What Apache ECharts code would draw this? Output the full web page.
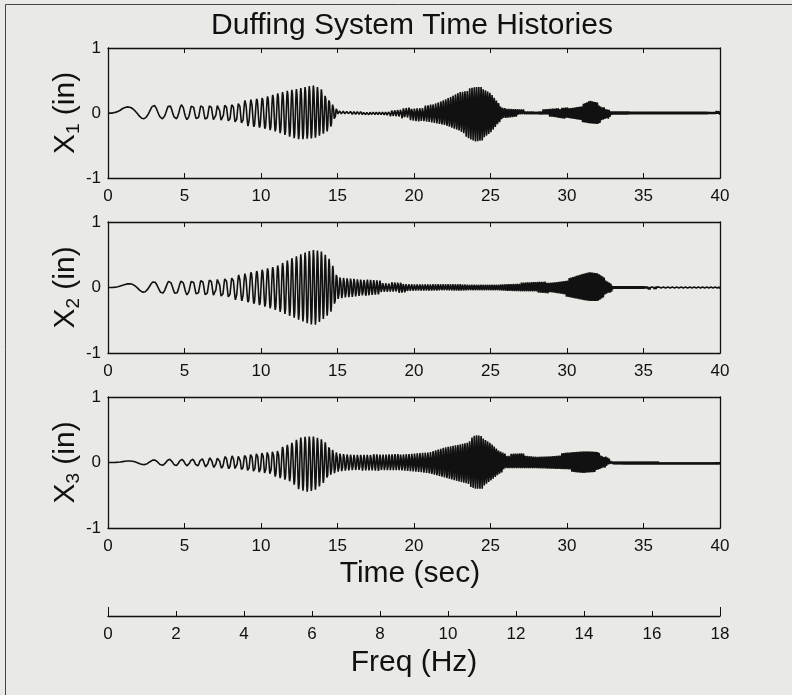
<!DOCTYPE html>
<html><head><meta charset="utf-8">
<script src="https://cdn.jsdelivr.net/npm/echarts@6/dist/echarts.min.js"></script>
<style>html,body{margin:0;padding:0;background:#e9e9e5;}#c{width:792px;height:695px;}</style>
</head><body><div id="c"></div>
<script>
// ---- data ----
const timeTicks = [0, 5, 10, 15, 20, 25, 30, 35, 40];
const freqTicks = [0, 2, 4, 6, 8, 10, 12, 14, 16, 18];
const yTicks = [-1, 0, 1];
// envelope sample times (sec)
const envT = [0,1,2,3,4,5,6,7,8,9,10,11,12,12.5,13,13.5,14,14.5,15,15.5,16,17,18,19,20,21,22,23,23.5,24,24.5,25,25.5,26,27,28,29,30,31,31.5,32,32.5,33,34,35,36,37,38,39,40];
// upper / lower envelopes of each trace (in)
const x1Hi = [0,0.1,0.08,0.12,0.12,0.13,0.14,0.14,0.15,0.2,0.23,0.3,0.36,0.38,0.41,0.43,0.36,0.2,0.05,0.04,0.02,0.03,0.04,0.07,0.1,0.12,0.22,0.35,0.37,0.4,0.4,0.33,0.17,0.07,0.06,0.05,0.07,0.09,0.14,0.2,0.17,0.08,0.05,0.05,0.04,0.04,0.04,0.04,0.04,0.03];
const x1Lo = [0,-0.05,-0.09,-0.09,-0.09,-0.1,-0.11,-0.13,-0.15,-0.2,-0.23,-0.29,-0.38,-0.41,-0.4,-0.39,-0.33,-0.26,-0.05,-0.04,-0.02,-0.03,-0.04,-0.08,-0.12,-0.15,-0.2,-0.3,-0.38,-0.44,-0.42,-0.33,-0.17,-0.08,-0.05,-0.05,-0.06,-0.1,-0.15,-0.17,-0.18,-0.12,-0.05,-0.05,-0.04,-0.04,-0.04,-0.04,-0.04,-0.03];
const x2Hi = [0,0.05,0.07,0.09,0.1,0.11,0.13,0.15,0.17,0.22,0.27,0.33,0.45,0.5,0.55,0.58,0.55,0.43,0.18,0.16,0.15,0.12,0.1,0.08,0.07,0.07,0.07,0.07,0.06,0.06,0.06,0.06,0.06,0.07,0.08,0.09,0.1,0.14,0.22,0.25,0.23,0.15,0.05,0.04,0.04,0.02,0.02,0.02,0.02,0.02];
const x2Lo = [0,-0.02,-0.07,-0.08,-0.1,-0.11,-0.13,-0.15,-0.18,-0.22,-0.28,-0.35,-0.45,-0.5,-0.55,-0.58,-0.5,-0.4,-0.2,-0.17,-0.16,-0.12,-0.1,-0.09,-0.07,-0.07,-0.06,-0.07,-0.06,-0.06,-0.06,-0.06,-0.06,-0.07,-0.08,-0.08,-0.1,-0.15,-0.2,-0.22,-0.22,-0.14,-0.05,-0.04,-0.04,-0.02,-0.02,-0.02,-0.02,-0.02];
const x3Hi = [0,0.02,0.03,0.04,0.05,0.05,0.06,0.08,0.1,0.13,0.17,0.2,0.3,0.38,0.4,0.4,0.35,0.25,0.16,0.14,0.13,0.13,0.12,0.13,0.15,0.17,0.25,0.3,0.33,0.42,0.4,0.32,0.2,0.14,0.15,0.12,0.13,0.16,0.18,0.18,0.17,0.1,0.03,0.03,0.03,0.03,0.03,0.03,0.03,0.03];
const x3Lo = [0,-0.01,-0.03,-0.04,-0.05,-0.05,-0.06,-0.08,-0.1,-0.14,-0.18,-0.22,-0.3,-0.42,-0.45,-0.43,-0.33,-0.22,-0.16,-0.14,-0.13,-0.12,-0.13,-0.13,-0.15,-0.18,-0.25,-0.32,-0.35,-0.4,-0.4,-0.3,-0.2,-0.12,-0.12,-0.12,-0.13,-0.14,-0.17,-0.16,-0.15,-0.08,-0.03,-0.03,-0.03,-0.03,-0.03,-0.03,-0.03,-0.03];
// observed oscillation sweep rate of the traces (Hz per second)
const sweepRate = 0.28;
const tMax = 40;
const freqMax = 18;

// ---- build traces ----
function envAt(arr, t) {
  for (let i = 0; i < envT.length - 1; i++) {
    if (t <= envT[i + 1]) {
      const f = (t - envT[i]) / (envT[i + 1] - envT[i]);
      return arr[i] + f * (arr[i + 1] - arr[i]);
    }
  }
  return arr[arr.length - 1];
}
function trace(hi, lo) {
  const pts = [];
  let t = 0;
  while (t <= tMax) {
    const s = Math.sin(Math.PI * sweepRate * t * t);
    const v = s >= 0 ? s * envAt(hi, t) : -s * envAt(lo, t);
    pts.push([t, v]);
    const f = sweepRate * t;
    t += Math.min(0.04, 1 / (16 * Math.max(f, 0.01)));
  }
  return pts;
}

const FONT = "'Liberation Sans', Arial, Helvetica, sans-serif";
const INK = '#111';
const grids = [
  { left: 108, right: 72, top: 48, height: 130 },
  { left: 108, right: 72, top: 222, height: 131 },
  { left: 108, right: 72, top: 397, height: 131 },
  { left: 108, right: 72, top: 614, height: 2 }
];
const traces = [[x1Hi, x1Lo], [x2Hi, x2Lo], [x3Hi, x3Lo]];
const xAxes = [], yAxes = [], series = [];
traces.forEach((tr, i) => {
  xAxes.push({
    gridIndex: i, type: 'value', min: timeTicks[0], max: timeTicks[timeTicks.length - 1],
    interval: timeTicks[1] - timeTicks[0], position: 'bottom',
    axisLine: { show: true, onZero: false, lineStyle: { color: INK, width: 1.3 } },
    axisTick: { show: true, inside: true, length: 5, lineStyle: { color: INK } },
    axisLabel: { fontSize: 17, color: INK, fontFamily: FONT, margin: 10 },
    splitLine: { show: false },
    name: i === 2 ? 'Time (sec)' : '', nameLocation: 'middle', nameGap: 31,
    nameTextStyle: { fontSize: 30, color: INK, fontFamily: FONT, padding: [0, 8, 0, 0] }
  });
  xAxes.push({
    gridIndex: i, type: 'value', min: 0, max: tMax, interval: 5, position: 'top',
    axisLine: { show: true, onZero: false, lineStyle: { color: INK, width: 1.3 } },
    axisTick: { show: true, inside: true, length: 5, lineStyle: { color: INK } },
    axisLabel: { show: false }, splitLine: { show: false }
  });
  yAxes.push({
    gridIndex: i, type: 'value', min: yTicks[0], max: yTicks[2], interval: 1, position: 'left',
    axisLine: { show: true, onZero: false, lineStyle: { color: INK, width: 1.3 } },
    axisTick: { show: true, inside: true, length: 5, lineStyle: { color: INK } },
    axisLabel: { fontSize: 17, color: INK, fontFamily: FONT, margin: 7 },
    splitLine: { show: false },
    name: '{a|X}{s|' + (i + 1) + '}{a| (in)}', nameLocation: 'middle', nameRotate: 90,
    nameGap: 24, nameMoveOverlap: false,
    nameTextStyle: {
      color: INK, fontFamily: FONT,
      rich: {
        a: { fontSize: 30, color: INK, fontFamily: FONT, lineHeight: 36 },
        s: { fontSize: 19, color: INK, fontFamily: FONT, lineHeight: 36, padding: [15, 0, 0, 0] }
      }
    }
  });
  yAxes.push({
    gridIndex: i, type: 'value', min: -1, max: 1, interval: 1, position: 'right',
    axisLine: { show: true, onZero: false, lineStyle: { color: INK, width: 1.3 } },
    axisTick: { show: true, inside: true, length: 5, lineStyle: { color: INK } },
    axisLabel: { show: false }, splitLine: { show: false }
  });
  series.push({
    type: 'line', xAxisIndex: 2 * i, yAxisIndex: 2 * i, data: trace(tr[0], tr[1]),
    showSymbol: false, symbol: 'none', animation: false, sampling: null,
    lineStyle: { color: INK, width: 1.6 }
  });
});
// frequency axis
xAxes.push({
  gridIndex: 3, type: 'value', min: freqTicks[0], max: freqMax, interval: freqTicks[1] - freqTicks[0],
  position: 'bottom',
  axisLine: { show: true, onZero: false, lineStyle: { color: INK, width: 1.3 } },
  axisTick: { show: true, inside: true, length: 5, lineStyle: { color: INK } },
  axisLabel: { fontSize: 17, color: INK, fontFamily: "'Liberation Sans Narrow', " + FONT, margin: 10 },
  splitLine: { show: false },
  name: 'Freq (Hz)', nameLocation: 'middle', nameGap: 32,
  nameTextStyle: { fontSize: 30, color: INK, fontFamily: FONT }
});
xAxes.push({
  gridIndex: 3, type: 'value', min: 0, max: freqMax, interval: freqMax, position: 'bottom',
  axisLine: { show: false },
  axisTick: { show: true, inside: true, length: 9, lineStyle: { color: INK } },
  axisLabel: { show: false }, splitLine: { show: false }
});
yAxes.push({ gridIndex: 3, type: 'value', min: 0, max: 1, show: false });

const chart = echarts.init(document.getElementById('c'), null, { renderer: 'canvas' });
chart.setOption({
  backgroundColor: '#e9e9e5',
  animation: false,
  title: {
    text: 'Duffing System Time Histories', left: 407, top: 6, textAlign: 'center',
    textStyle: { fontSize: 30, fontWeight: 'normal', color: INK, fontFamily: FONT }
  },
  grid: grids,
  xAxis: xAxes,
  yAxis: yAxes,
  series: series,
  graphic: [
    { type: 'line', shape: { x1: 5.5, y1: 4.5, x2: 792, y2: 4.5 }, style: { stroke: '#444', lineWidth: 1 } },
    { type: 'line', shape: { x1: 5.5, y1: 4.5, x2: 5.5, y2: 695 }, style: { stroke: '#444', lineWidth: 1 } }
  ]
});
</script></body></html>
